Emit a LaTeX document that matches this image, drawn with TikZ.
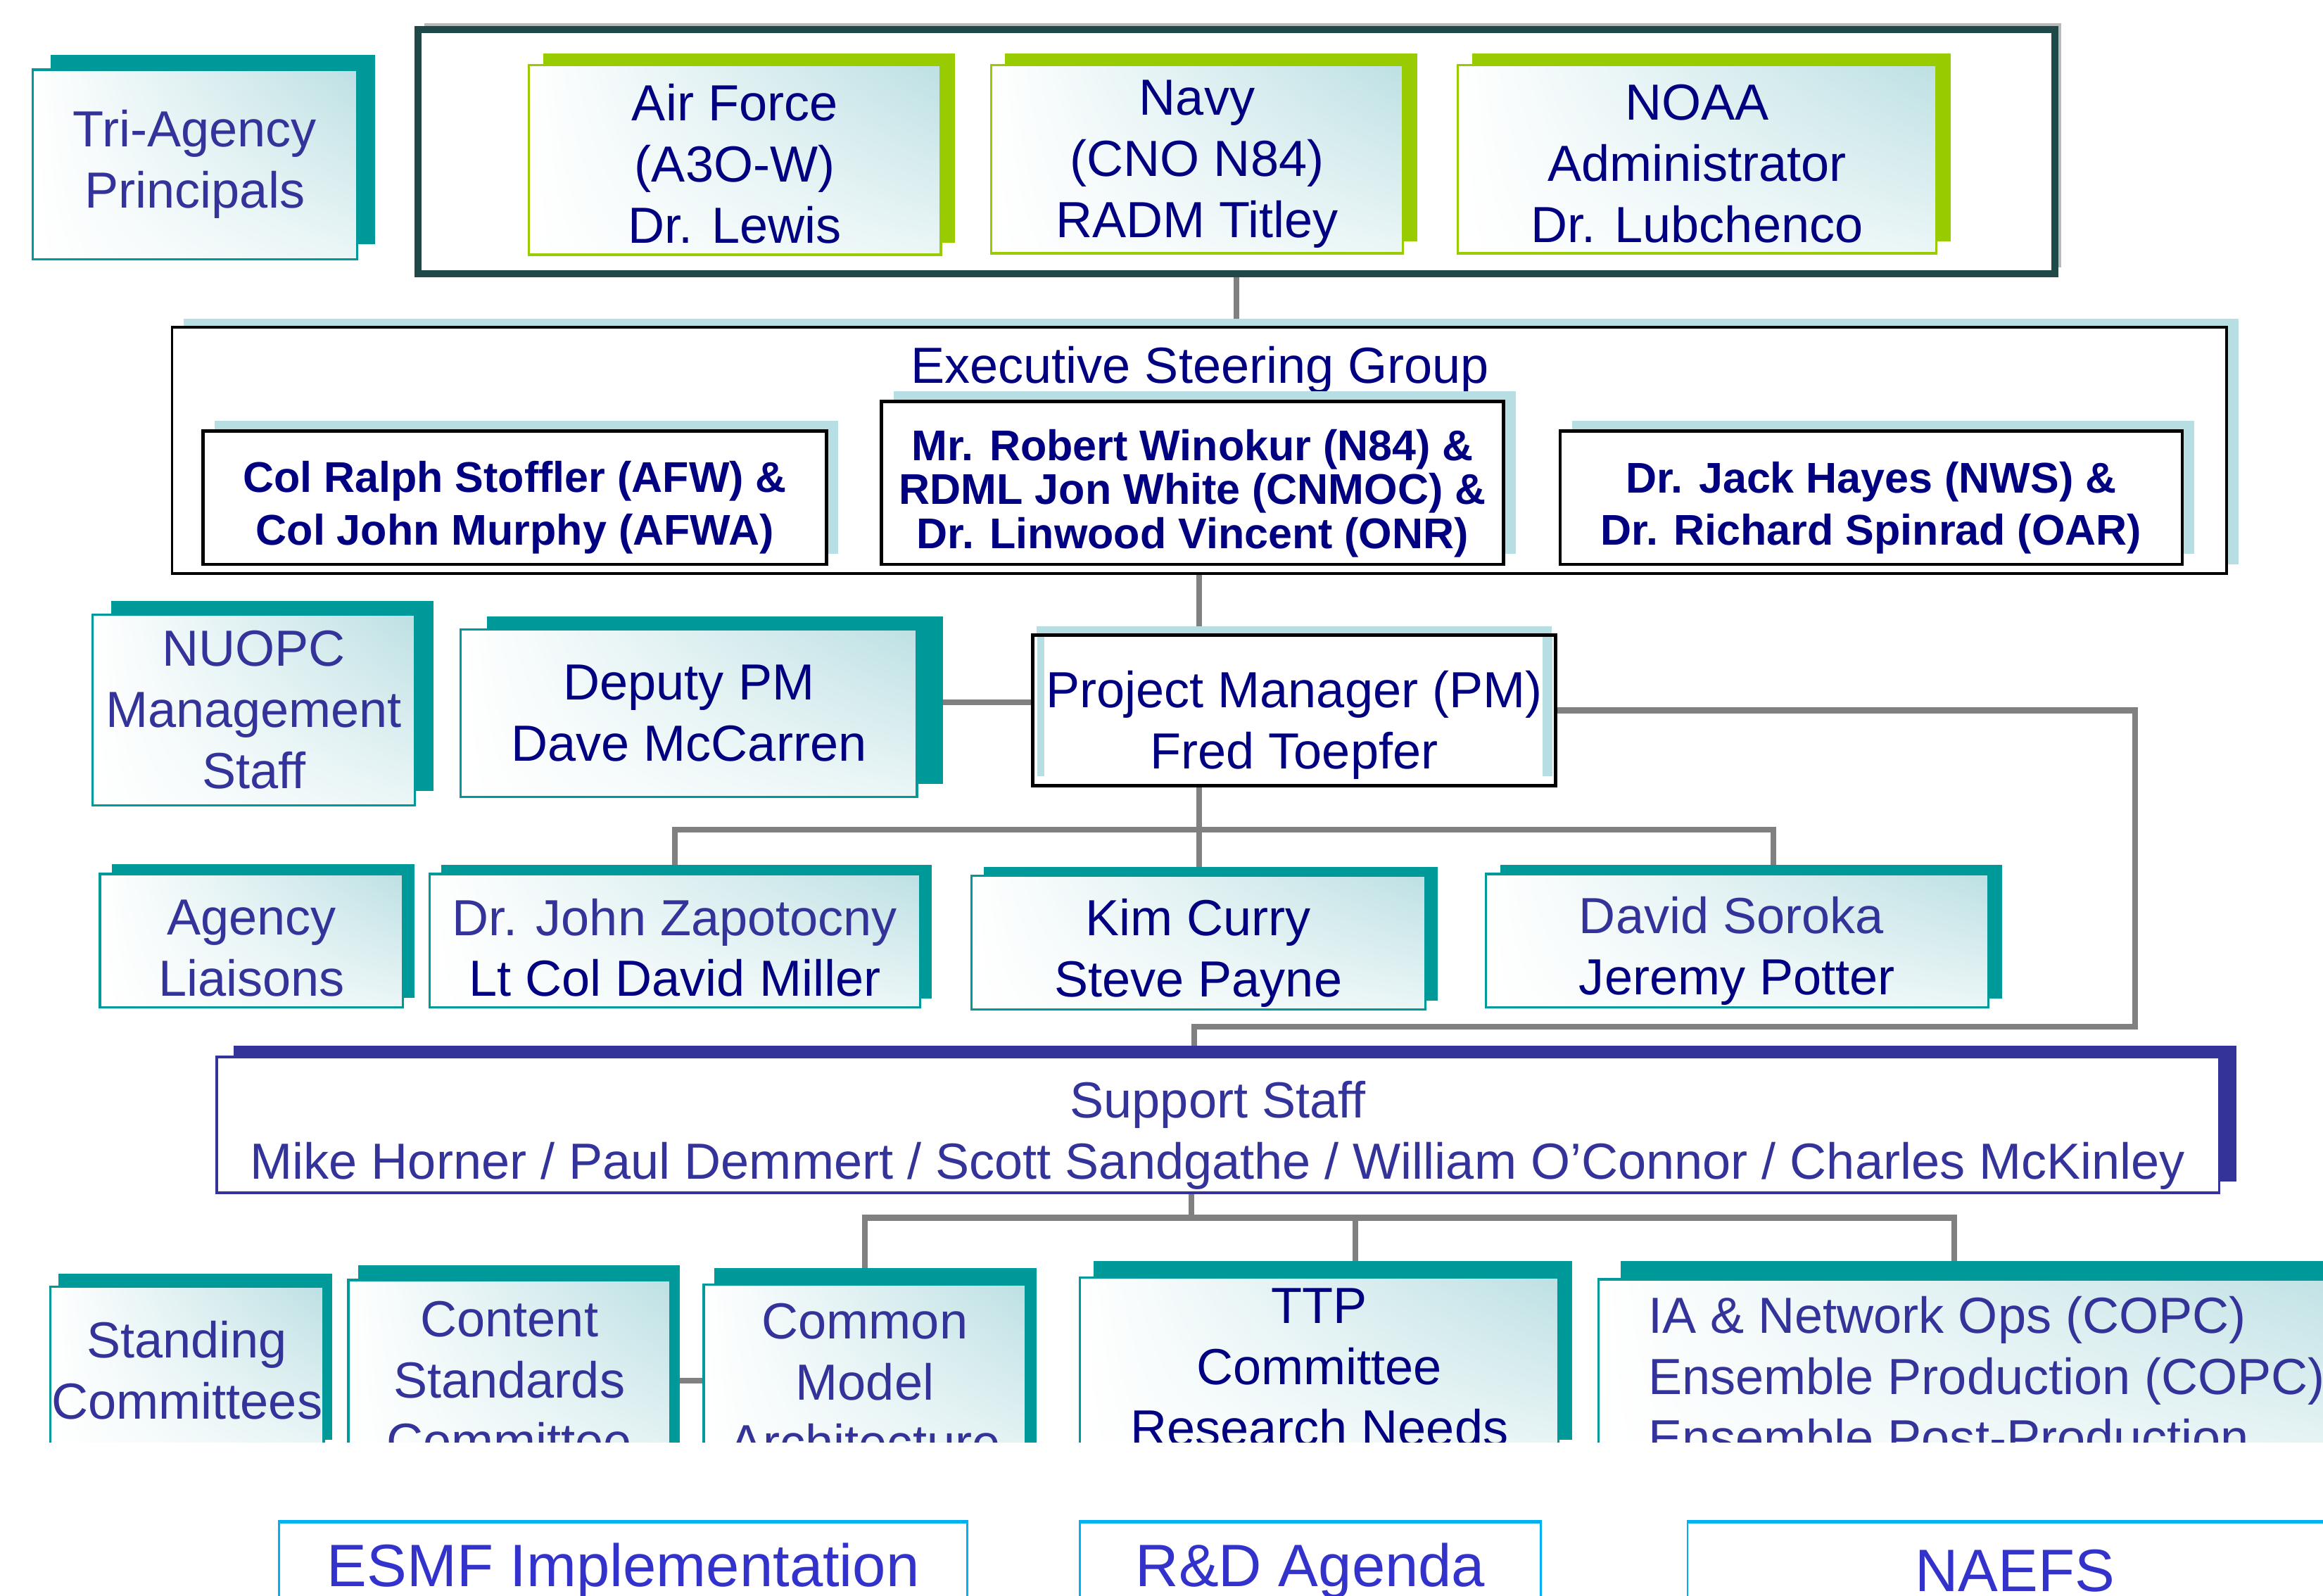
\documentclass[tikz,border=0pt]{standalone}
\usepackage{fontspec}
\setmainfont{Liberation Sans}
\usepackage{xcolor}
\usepackage{tikz}
\usetikzlibrary{positioning,fit,backgrounds,shadows,shadings}
\definecolor{navytext}{RGB}{0, 0, 128}
\definecolor{slatetext}{RGB}{51, 51, 153}
\definecolor{brighttext}{RGB}{51, 51, 204}
\definecolor{tealedge}{RGB}{0, 153, 153}
\definecolor{limeedge}{RGB}{153, 204, 0}
\definecolor{paleblue}{RGB}{189, 224, 227}
\definecolor{shadowblue}{RGB}{183, 222, 226}
\definecolor{framegreen}{RGB}{31, 72, 72}
\definecolor{linkgray}{RGB}{128, 128, 128}
\definecolor{skyedge}{RGB}{0, 176, 240}
% invisible strut that pushes a block of lines down
\newcommand{\firstlift}[1]{\rule{0pt}{#1}}

\tikzset{
  boxsize/.style 2 args={minimum width=#1cm, minimum height=#2cm},
  body/.style={font=\fontsize{19.5}{23.5}\selectfont, align=center},
  namebold/.style={font=\fontsize{16.5}{20.5}\selectfont\bfseries, align=center, text=navytext},
  fade/.style={upper left=white, upper right=paleblue, lower left=white, lower right=paleblue!30},
  tealbox/.style 2 args={rectangle, inner sep=0pt, draw=tealedge, line width=0.9pt, fade, body,
    general shadow={fill=tealedge, shadow xshift=#1, shadow yshift=#2}},
  tealbox/.default={0.18cm}{0.16cm},
  limebox/.style={rectangle, inner sep=0pt, draw=limeedge, line width=1pt, fade, body, text=navytext,
    general shadow={fill=limeedge, shadow xshift=0.19cm, shadow yshift=0.16cm}},
  outerframe/.style={rectangle, inner sep=0pt, draw=framegreen, line width=2.7pt, fill=white,
    general shadow={fill=gray!55, shadow xshift=0.09cm, shadow yshift=0.09cm}},
  groupbox/.style={rectangle, inner sep=0pt, draw=black, line width=1pt, fill=white,
    general shadow={fill=shadowblue, shadow xshift=0.16cm, shadow yshift=0.12cm}},
  blackbox/.style={rectangle, inner sep=0pt, draw=black, line width=1.3pt, fill=white, namebold,
    general shadow={fill=shadowblue, shadow xshift=0.16cm, shadow yshift=0.14cm}},
  pmbox/.style={rectangle, inner sep=0pt, draw=black, line width=1.3pt, fill=white, body, text=navytext,
    general shadow={fill=shadowblue, shadow scale=0.985, shadow yshift=0.13cm},
    path picture={
      \fill[shadowblue] ([xshift=0.06cm]path picture bounding box.north west) rectangle ([xshift=0.16cm, yshift=0.13cm]path picture bounding box.south west);
      \fill[shadowblue] ([xshift=-0.18cm]path picture bounding box.north east) rectangle ([xshift=-0.04cm, yshift=0.13cm]path picture bounding box.south east);}},
  staffbox/.style={rectangle, inner sep=0pt, draw=slatetext, line width=1pt, fill=white, body, text=slatetext,
    general shadow={fill=slatetext, shadow xshift=0.23cm, shadow yshift=0.15cm}},
  agendabox/.style={rectangle, inner sep=0pt, draw=skyedge, line width=0.8pt, fill=white,
    font=\fontsize{23}{27}\selectfont, text=brighttext,
    path picture={\draw[skyedge, line width=2.4pt] (path picture bounding box.north west) -- (path picture bounding box.north east);}},
  link/.style={draw=linkgray, line width=2.2pt},
}

\begin{document}
\begin{tikzpicture}[x=0.02cm, y=-0.02cm]
\useasboundingbox (0,0) rectangle (1568,1077);
\clip (0,0) rectangle (1568,1077);

% Principals
\node[tealbox={0.24cm}{0.2cm}, text=slatetext, boxsize={4.38}{2.56}] (tri) at (131.5,111) {Tri-Agency\\Principals};
\node[outerframe, boxsize={22.1}{3.3}] (principals) at (834.5,102.5) {};
\node[limebox, boxsize={5.56}{2.56}] (airforce) at (496,108) {\firstlift{17pt}Air Force\\(A3O-W)\\Dr. Lewis};
\node[limebox, boxsize={5.56}{2.54}] (navy) at (808,107.5) {\firstlift{17pt}Navy\\(CNO N84)\\RADM Titley};
\node[limebox, boxsize={6.46}{2.54}] (noaa) at (1145.5,107.5) {\firstlift{17pt}NOAA\\Administrator\\Dr. Lubchenco};

% Executive Steering Group
\node[groupbox, boxsize={27.74}{3.32}] (esg) at (809.5,304) {};
\node[body, text=navytext] (esgtitle) at (810,250) {Executive Steering Group};
\node[blackbox, boxsize={8.42}{1.8}] (stoffler) at (347.5,336) {\firstlift{19.5pt}Col Ralph Stoffler (AFW) \&\\Col John Murphy (AFWA)};
\node[blackbox, font=\fontsize{16.5}{16.8}\selectfont\bfseries, boxsize={8.4}{2.2}] (winokur) at (805,326) {\firstlift{20pt}Mr. Robert Winokur (N84) \&\\RDML Jon White (CNMOC) \&\\Dr. Linwood Vincent (ONR)};
\node[blackbox, font=\fontsize{16.5}{20}\selectfont\bfseries, boxsize={8.4}{1.8}] (hayes) at (1263,336) {\firstlift{19.5pt}Dr. Jack Hayes (NWS) \&\\Dr. Richard Spinrad (OAR)};

% Management
\node[tealbox={0.25cm}{0.19cm}, text=slatetext, boxsize={4.35}{2.57}] (nuopc) at (171.25,479.25) {NUOPC\\Management\\Staff};
\node[tealbox={0.35cm}{0.18cm}, text=navytext, boxsize={6.16}{2.26}] (deputy) at (465,481.5) {Deputy PM\\Dave McCarren};
\node[pmbox, boxsize={7.06}{2.04}] (pm) at (873.5,479.5) {\firstlift{25.5pt}Project Manager (PM)\\Fred Toepfer};

% Liaisons and leads
\node[tealbox={0.16cm}{0.13cm}, text=slatetext, boxsize={4.09}{1.8}] (liaisons) at (169.75,635) {\firstlift{19pt}Agency\\Liaisons};
\node[tealbox={0.16cm}{0.12cm}, boxsize={6.62}{1.8}] (zapotocny) at (455.5,635) {\firstlift{19.5pt}\textcolor{slatetext}{Dr. John Zapotocny}\\\textcolor{navytext}{Lt Col David Miller}};
\node[tealbox={0.17cm}{0.12cm}, text=navytext, boxsize={6.13}{1.81}] (curry) at (808.8,636.25) {\firstlift{22pt}Kim Curry\\Steve Payne};
\node[tealbox={0.19cm}{0.12cm}, align=left, boxsize={6.78}{1.8}] (soroka) at (1172.5,635) {\firstlift{22pt}\textcolor{slatetext}{David Soroka}\\\textcolor{navytext}{Jeremy Potter}};

% Support staff
\node[staffbox, boxsize={27.04}{1.83}] (support) at (822,759.25) {\firstlift{22pt}Support Staff\\Mike Horner / Paul Demmert / Scott Sandgathe / William O’Connor / Charles McKinley};

% Standing committees
\begin{scope}
  \clip (0,0) rectangle (1568,973.5);
  \node[tealbox={0.11cm}{0.18cm}, text=slatetext, boxsize={3.69}{2.25}] (standing) at (126.25,924.85) {Standing\\Committees};
  \node[tealbox={0.13cm}{0.2cm}, text=slatetext, boxsize={4.35}{2.72}] (content) at (343.8,932) {Content\\Standards\\Committee};
  \node[tealbox={0.14cm}{0.22cm}, text=slatetext, boxsize={4.35}{2.64}] (common) at (583.75,933) {Common\\Model\\Architecture};
  \node[tealbox={0.18cm}{0.23cm}, text=navytext, boxsize={6.46}{2.42}] (ttp) at (890.5,923) {TTP\\Committee\\Research Needs};
  \node[tealbox={0.3cm}{0.25cm}, text=slatetext, align=left, boxsize={10.48}{2.62}] (ia) at (1341,929) {IA \& Network Ops (COPC)\\Ensemble Production (COPC)\\Ensemble Post-Production};
\end{scope}

% Agenda
\node[agendabox, boxsize={9.29}{1.36}] (esmf) at (420.75,1060.5) {ESMF Implementation};
\node[agendabox, boxsize={6.22}{1.36}] (rnd) at (884.5,1060.5) {R\&D Agenda};
\node[agendabox, boxsize={8.84}{1.36}] (naefs) at (1360,1060.5) {NAEFS};

% Connecting lines
\coordinate (bend) at (1441,693);
\coordinate (drop) at (806,693);
\coordinate (busright) at (1197,560);
\coordinate (lowbus) at (804,822);
\coordinate (ttpdrop) at (915,822);
\coordinate (iadrop) at (1319,822);
\begin{scope}[on background layer]
  \draw[link] (principals.south) -- (principals.south |- esg.north);
  \draw[link] (esg.south) -- (esg.south |- curry.north);
  \draw[link] (deputy.east |- 0,474) -- (pm.west |- 0,474);
  \draw[link] (pm.east) -| (bend) -- (drop) -- (drop |- support.north);
  \draw[link] (zapotocny.north) |- (busright) -- (busright |- soroka.north);
  \draw[link] (lowbus |- support.south) -- (lowbus);
  \draw[link] (common.north) |- (iadrop) -- (iadrop |- ia.north);
  \draw[link] (ttpdrop) -- (ttpdrop |- ttp.north);
  \draw[link] (content.east) -- (content.east -| common.west);
\end{scope}
\end{tikzpicture}
\end{document}
